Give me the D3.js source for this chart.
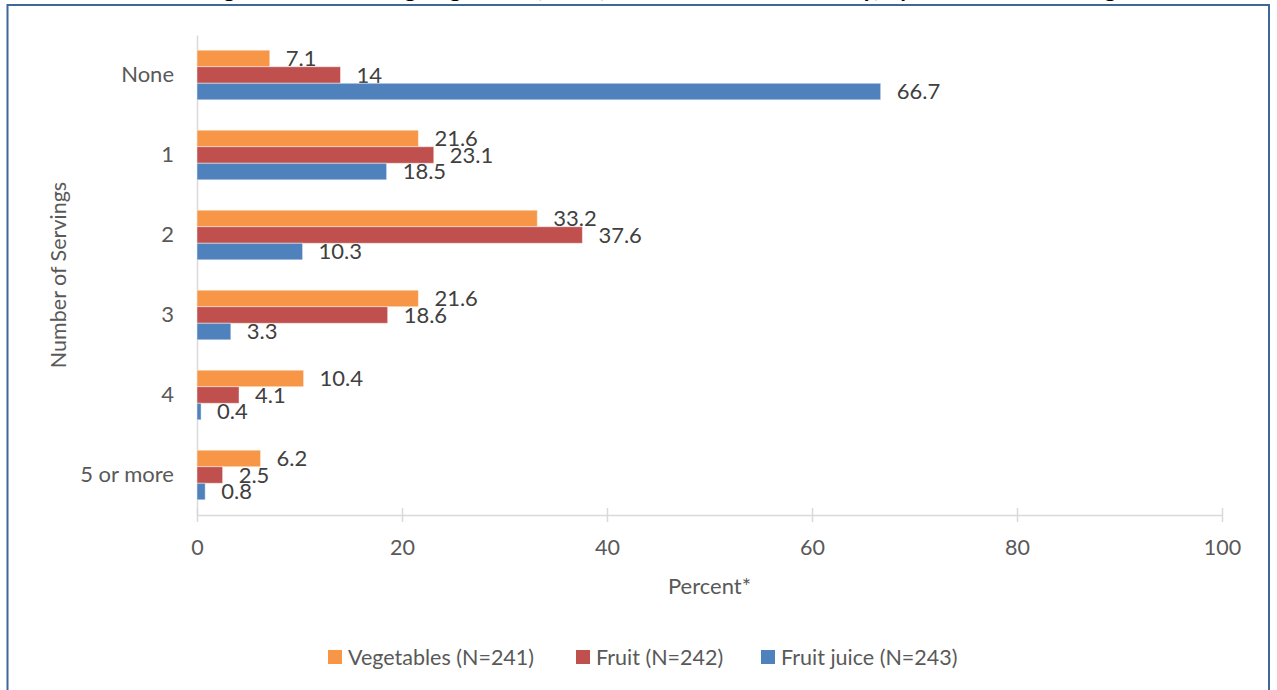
<!DOCTYPE html>
<html>
<head>
<meta charset="utf-8">
<script src="https://cdn.jsdelivr.net/npm/d3@7"></script>
<style>
  html, body { margin: 0; padding: 0; background: #ffffff; }
  svg { display: block; }
  text { font-family: Lato, "Open Sans", sans-serif; }
</style>
</head>
<body>
<svg id="chart" width="1277" height="690"></svg>
<script>
// ---- data ----
const categories = ["None", "1", "2", "3", "4", "5 or more"];
const seriesNames = ["Vegetables (N=241)", "Fruit (N=242)", "Fruit juice (N=243)"];
const vegetables = [7.1, 21.6, 33.2, 21.6, 10.4, 6.2];
const fruit = [14, 23.1, 37.6, 18.6, 4.1, 2.5];
const fruitJuice = [66.7, 18.5, 10.3, 3.3, 0.4, 0.8];
const xTicks = [0, 20, 40, 60, 80, 100];
const colors = ["#F79646", "#C0504D", "#4F81BD"];
const titleText = "Percentage of Youth Eating Vegetables, Fruit, and Fruit Juice Yesterday, by Number of Servings";
const xTitle = "Percent*";
const yTitle = "Number of Servings";

const seriesValues = [vegetables, fruit, fruitJuice];

const svg = d3.select("#chart");
const plot = { left: 197, right: 1222, top: 35, bottom: 515 };

// frame
svg.append("rect")
  .attr("x", 7.5).attr("y", 5)
  .attr("width", 1261.5).attr("height", 700)
  .attr("fill", "#fff")
  .attr("stroke", "#3E6898").attr("stroke-width", 2);

// title (clipped above the frame, only descenders show)
svg.append("text")
  .attr("x", 628).attr("y", -3)
  .attr("text-anchor", "middle")
  .attr("font-size", 24).attr("font-weight", "bold")
  .attr("fill", "#000")
  .text(titleText);

const x = d3.scaleLinear().domain([0, 100]).range([plot.left, plot.right]);
const y = d3.scaleBand().domain(categories).range([plot.top, plot.bottom])
  .paddingInner(0.38).paddingOuter(0.19);
const y1 = d3.scaleBand().domain(d3.range(seriesNames.length)).range([0, y.bandwidth()]);

// x axis
const xAxis = d3.axisBottom(x).tickValues(xTicks).tickSize(0).tickPadding(0);
const gx = svg.append("g").attr("transform", `translate(0,${plot.bottom})`).call(xAxis);
gx.select(".domain").attr("stroke", "#D9D9D9").attr("stroke-width", 1.5);
gx.selectAll(".tick").append("line")
  .attr("y1", -7).attr("y2", 7)
  .attr("stroke", "#D9D9D9").attr("stroke-width", 1.5);
gx.selectAll(".tick text")
  .attr("y", 32).attr("dy", "0.35em")
  .attr("font-size", 21.5).attr("fill", "#595959")
  .attr("font-family", "Lato, sans-serif");

// y axis
const yAxis = d3.axisLeft(y).tickSize(0).tickPadding(23);
const gy = svg.append("g").attr("transform", `translate(${plot.left},0)`).call(yAxis);
gy.select(".domain").attr("stroke", "#D9D9D9").attr("stroke-width", 1.5);
gy.selectAll(".tick text")
  .attr("font-size", 22).attr("fill", "#595959")
  .attr("font-family", "Lato, sans-serif");

// bars + labels, series by series (later series draw over earlier labels)
seriesValues.forEach((vals, si) => {
  const g = svg.append("g");
  g.selectAll("rect").data(vals).join("rect")
    .attr("x", x(0))
    .attr("y", (d, i) => y(categories[i]) + y1(si))
    .attr("width", d => x(d) - x(0))
    .attr("height", y1.bandwidth())
    .attr("fill", colors[si])
    .attr("stroke", "rgba(255,255,255,0.45)").attr("stroke-width", 1);
  g.selectAll("text").data(vals).join("text")
    .attr("x", d => x(d) + 16)
    .attr("y", (d, i) => y(categories[i]) + y1(si) + y1.bandwidth() / 2)
    .attr("dy", "0.36em")
    .attr("font-size", 22).attr("fill", "#404040")
    .text(d => d);
});

// axis titles
svg.append("text")
  .attr("x", (plot.left + plot.right) / 2).attr("y", 586)
  .attr("dy", "0.35em").attr("text-anchor", "middle")
  .attr("font-size", 22).attr("fill", "#595959")
  .text(xTitle);

svg.append("text")
  .attr("transform", `translate(58,${(plot.top + plot.bottom) / 2}) rotate(-90)`)
  .attr("dy", "0.35em").attr("text-anchor", "middle")
  .attr("font-size", 21.5).attr("fill", "#595959")
  .text(yTitle);

// legend
const legendX = [328, 576, 761];
const lg = svg.append("g");
seriesNames.forEach((name, i) => {
  lg.append("rect")
    .attr("x", legendX[i]).attr("y", 650)
    .attr("width", 14).attr("height", 14)
    .attr("fill", colors[i]);
  lg.append("text")
    .attr("x", legendX[i] + 20).attr("y", 657)
    .attr("dy", "0.36em")
    .attr("font-size", 21.5).attr("fill", "#595959")
    .text(name);
});
</script>
</body>
</html>
